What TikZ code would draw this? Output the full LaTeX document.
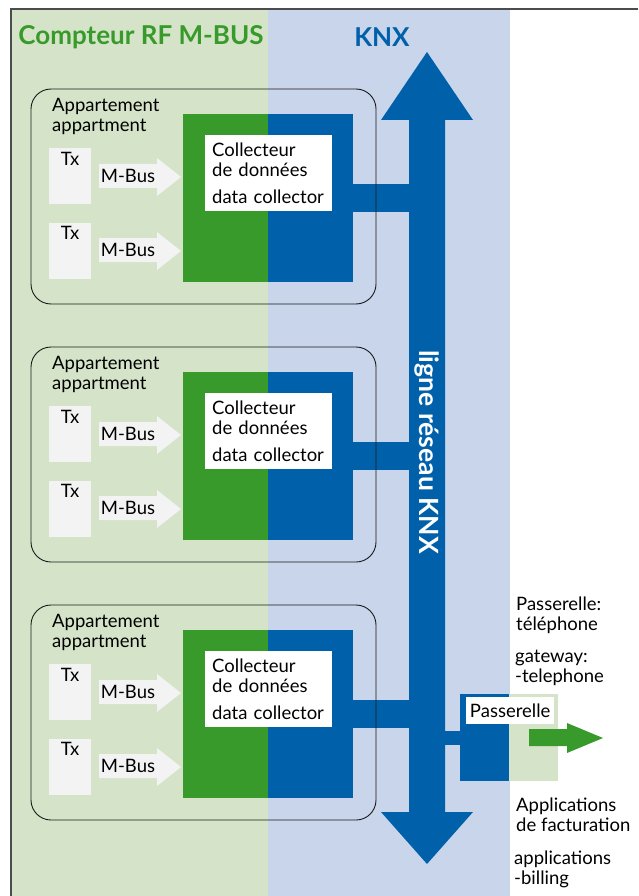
\documentclass[tikz,border=0pt]{standalone}
\usepackage{fontspec}
\setmainfont{Lato}
\usetikzlibrary{positioning}
\definecolor{mbusgreen}{HTML}{389A2B}
\definecolor{knxblue}{HTML}{0060AA}
\definecolor{mbusbg}{HTML}{D5E4C9}
\definecolor{knxbg}{HTML}{C8D5EB}
\definecolor{txgray}{HTML}{F3F3F3}
\begin{document}
\begin{tikzpicture}[x=1pt,y=-1pt,font=\fontsize{18.5}{20}\selectfont]
  \tikzstyle{apt}=[draw=black!90,line width=0.9pt,rounded corners=20pt,minimum width=345pt,minimum height=215pt]
  \tikzstyle{tx}=[fill=txgray,minimum width=42pt,minimum height=56pt,inner sep=0pt]
  \tikzstyle{half}=[minimum width=85pt,minimum height=168pt,inner sep=0pt]
  \tikzstyle{lbl}=[fill=white,text width=113pt,minimum height=76pt,inner xsep=7pt,align=left]
  \tikzstyle{txt}=[anchor=north west,align=left,inner sep=0pt]
  \tikzstyle{title}=[font=\fontsize{26}{30}\selectfont\bfseries]
  \useasboundingbox (0,0) rectangle (638,896);
  % the two zones and the frame
  \fill[mbusbg] (12,10) rectangle (268,896);
  \fill[knxbg] (268,10) rectangle (510,896);
  \draw[black!70,line width=1.5pt] (11,896) -- (11,9) -- (638,9);
  \node[title,text=mbusgreen] (mbus-title) at (141,37) {Compteur RF M-BUS};
  \node[title,text=knxblue] (knx-title) at (382,37) {KNX};
  % KNX bus line
  \fill[knxblue] (427,52) -- (473,120) -- (445,120) -- (445,812) -- (473,812) -- (427,864)
    -- (381,812) -- (409,812) -- (409,120) -- (381,120) -- cycle;
  \coordinate (bus) at (427,452);
  % one block per flat
  \foreach \i/\d in {1/0,2/258,3/516}{
    \begin{scope}[yshift=-\d pt]
      \node[half,fill=mbusgreen] (collg\i) at (225.5,198) {};
      \node[half,fill=knxblue] (collb\i) at (310,198) {};
      \draw[knxblue,line width=28pt] (collb\i.east) -- (collb\i.east -| bus);
      \node[lbl,anchor=north west] (data\i) at (205,135) {Collecteur\\de données\\[7pt]data collector};
      \node[apt] (apt\i) at (203.5,196.5) {};
      \node[txt] (name\i) at (52,98) {Appartement\\appartment};
      \node[tx,label={[anchor=north,inner sep=4pt]north:Tx}] (txa\i) at (70,176) {};
      \node[tx,label={[anchor=north,inner sep=4pt]north:Tx}] (txb\i) at (70,250.5) {};
      \fill[txgray] (99,164) -- (157,164) -- (157,158) -- (181,177) -- (157,196) -- (157,188) -- (99,188) -- cycle;
      \fill[txgray] (99,238) -- (157,238) -- (157,232) -- (181,251) -- (157,270) -- (157,262) -- (99,262) -- cycle;
      \node (busa\i) at (128,176) {M-Bus};
      \node (busb\i) at (128,250) {M-Bus};
    \end{scope}
  }
  \node[rotate=-90,text=white,font=\fontsize{26.5}{30}\selectfont\bfseries] (bus-name) at (bus) {ligne réseau KNX};
  % gateway
  \node[fill=knxblue,minimum width=49pt,minimum height=87pt,inner sep=0pt] (gw-knx) at (484.5,737.5) {};
  \node[fill=mbusbg,minimum width=49pt,minimum height=87pt,inner sep=0pt] (gw-app) at (533.5,737.5) {};
  \node[fill=white,anchor=north west,minimum width=88pt,minimum height=27pt,inner sep=1pt] (gw) at (466,697) {Passerelle};
  \draw[knxblue,line width=14pt] (bus |- gw-knx) -- (gw-knx.west);
  \fill[mbusgreen] (529,729) -- (567,729) -- (567,723) -- (603,738) -- (567,753) -- (567,746) -- (529,746) -- cycle;
  \node[txt] (gw-fr) at (516,597) {Passerelle:\\téléphone};
  \node[txt] (gw-en) at (515,650) {gateway:\\-telephone};
  \node[txt] (app-fr) at (516,798) {Applications\\de facturation};
  \node[txt] (app-en) at (514,851) {applications\\-billing};
\end{tikzpicture}
\end{document}
